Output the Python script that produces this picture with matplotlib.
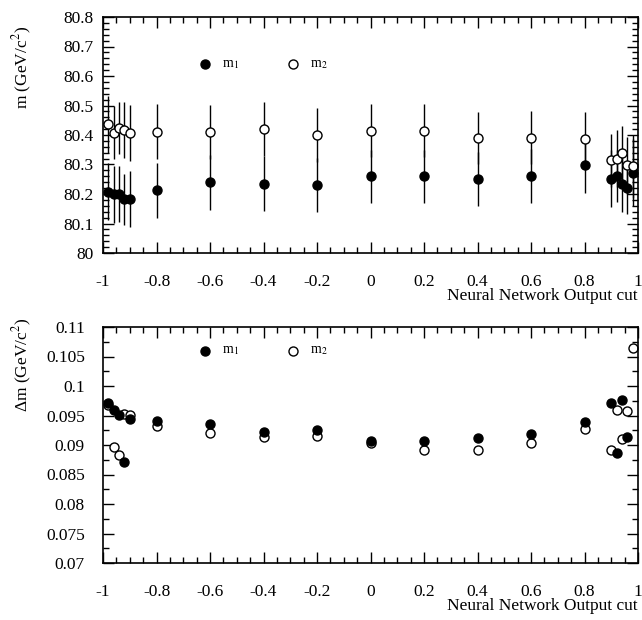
import numpy as np
import matplotlib
matplotlib.use("Agg")
import matplotlib.pyplot as plt
from matplotlib.ticker import MultipleLocator, FuncFormatter

plt.rcParams["font.family"] = ["Liberation Serif", "DejaVu Serif"]
plt.rcParams["mathtext.fontset"] = "stix"
plt.rcParams["axes.unicode_minus"] = False

# neural network output cut values
cuts = [-0.98, -0.96, -0.94, -0.92, -0.90, -0.8, -0.6, -0.4, -0.2, 0.0,
        0.2, 0.4, 0.6, 0.8, 0.90, 0.92, 0.94, 0.96, 0.98]

# fitted masses (GeV/c^2)
m1 = [80.208, 80.199, 80.199, 80.182, 80.182, 80.212, 80.240, 80.235, 80.230, 80.260,
      80.260, 80.250, 80.261, 80.297, 80.252, 80.260, 80.235, 80.222, 80.272]
m2 = [80.436, 80.408, 80.423, 80.416, 80.408, 80.411, 80.410, 80.420, 80.400, 80.415,
      80.415, 80.390, 80.391, 80.385, 80.314, 80.320, 80.339, 80.297, 80.294]

# mass uncertainties (GeV/c^2)
dm1 = [0.0971, 0.0960, 0.0951, 0.0871, 0.0944, 0.0941, 0.0935, 0.0922, 0.0925, 0.0906,
       0.0907, 0.0912, 0.0918, 0.0939, 0.0971, 0.0887, 0.0977, 0.0914, 0.1130]
dm2 = [0.0968, 0.0896, 0.0883, 0.0952, 0.0951, 0.0933, 0.0921, 0.0913, 0.0916, 0.0904,
       0.0892, 0.0891, 0.0904, 0.0927, 0.0891, 0.0960, 0.0910, 0.0958, 0.1065]

W, H = 642, 620
fig = plt.figure(figsize=(W / 100, H / 100), dpi=100)


def box(l, t, r, b):
    return [l / W, 1 - b / H, (r - l) / W, (b - t) / H]


ax1 = fig.add_axes(box(103, 17, 638, 253))
ax2 = fig.add_axes(box(103, 327, 638, 563))

fmt = FuncFormatter(lambda v, p: "%g" % round(v, 4))
ms = 6.5

ax1.errorbar(cuts, m1, yerr=dm1, fmt="o", color="k", mfc="k", ms=ms, elinewidth=1.0, capsize=0)
ax1.errorbar(cuts, m2, yerr=dm2, fmt="o", color="k", mfc="white", ms=ms, elinewidth=1.0, capsize=0)
ax1.set_ylim(80, 80.8)
ax1.yaxis.set_major_locator(MultipleLocator(0.1))
ax1.yaxis.set_minor_locator(MultipleLocator(0.02))

ax2.plot(cuts, dm2, "o", color="k", mfc="white", ms=ms)
ax2.plot(cuts, dm1, "o", color="k", mfc="k", ms=ms)
ax2.set_ylim(0.07, 0.11)
ax2.yaxis.set_major_locator(MultipleLocator(0.005))
ax2.yaxis.set_minor_locator(MultipleLocator(0.0025))

for ax, ly, ypad in ((ax1, 0.80, 7), (ax2, 0.90, 13)):
    ax.set_xlim(-1, 1)
    ax.xaxis.set_major_locator(MultipleLocator(0.2))
    ax.xaxis.set_minor_locator(MultipleLocator(0.05))
    ax.xaxis.set_major_formatter(fmt)
    ax.yaxis.set_major_formatter(fmt)
    ax.tick_params(which="both", direction="in", top=True, right=True, labelsize=12.5, width=1)
    ax.tick_params(which="major", length=8)
    ax.tick_params(which="minor", length=4)
    ax.tick_params(axis="x", which="major", pad=15)
    ax.tick_params(axis="y", which="major", pad=ypad)
    for s in ax.spines.values():
        s.set_linewidth(1.2)
    ax.set_xlabel("Neural Network Output cut", fontsize=12.5, ha="right", x=1.0, labelpad=-1)
    # legend
    ax.plot([0.191], [ly], "o", color="k", mfc="k", ms=ms, transform=ax.transAxes)
    ax.text(0.222, ly, "m$_1$", transform=ax.transAxes, va="center", fontsize=10)
    ax.plot([0.355], [ly], "o", color="k", mfc="white", ms=ms, transform=ax.transAxes)
    ax.text(0.386, ly, "m$_2$", transform=ax.transAxes, va="center", fontsize=10)

fig.text(22 / W, 1 - 67 / H, "m (GeV/c$^2$)", rotation=90, ha="center", va="center", fontsize=12.5)
fig.text(22 / W, 1 - 365 / H, "\u0394m (GeV/c$^2$)", rotation=90, ha="center", va="center", fontsize=12.5)

fig.savefig("out.png", dpi=100)
